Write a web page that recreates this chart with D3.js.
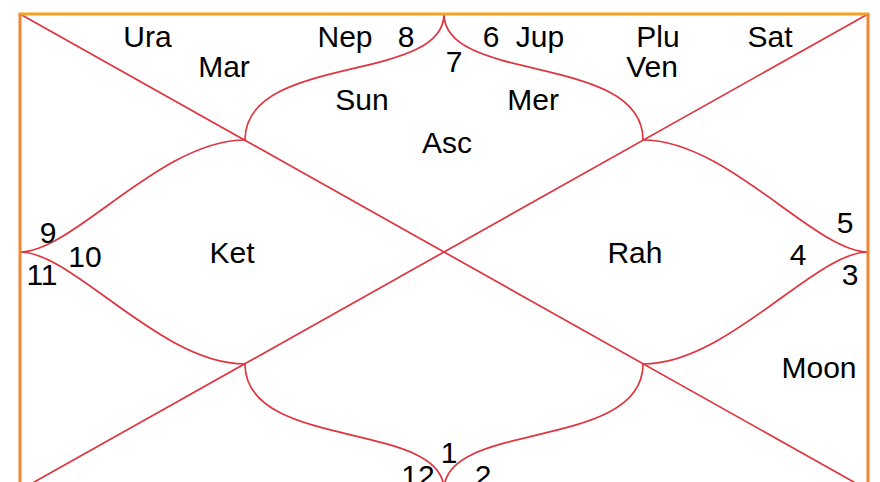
<!DOCTYPE html>
<meta charset="utf-8">
<script src="https://d3js.org/d3.v7.min.js"></script>
<style>
  html, body { margin: 0; padding: 0; background: #fff; }
  svg { display: block; font-family: 'Liberation Sans', Arial, sans-serif; }
</style>
<body>
<div id="chart"></div>
<script>
// sign number in each house (house 1 = top diamond, counter-clockwise)
var signs = [7, 8, 9, 10, 11, 12, 1, 2, 3, 4, 5, 6];
// planets in each house
var planets = [
  ["Sun", "Mer", "Asc"],
  ["Nep", "Ura", "Mar"],
  [],
  ["Ket"],
  [],
  [],
  [],
  [],
  ["Moon"],
  ["Rah"],
  [],
  ["Jup", "Plu", "Sat", "Ven"]
];

// layout (fractions of the chart box)
var signPos = [
  [.5118, .1212], [.4552, .0693], [.0330, .4811], [.0767, .5315],
  [.0259, .5693], [.4693, .9916], [.5059, .9433], [.5460, .9916],
  [.9788, .5693], [.9175, .5273], [.9729, .4601], [.5554, .0693]
];
var planetPos = {
  Sun: [.4033, .2017], Mer: [.6050, .2017], Asc: [.5035, .2920],
  Nep: [.3833, .0693], Ura: [.1504, .0693], Mar: [.2406, .1324],
  Ket: [.2500, .5231], Moon: [.9422, .7647], Rah: [.7252, .5231],
  Jup: [.6132, .0693], Plu: [.7524, .0693], Sat: [.8844, .0693],
  Ven: [.7453, .1324]
};

var W = 880, H = 482;
var x = d3.scaleLinear().domain([0, 1]).range([20, 868]);
var y = d3.scaleLinear().domain([0, 1]).range([14, 490]);

var svg = d3.select("#chart").append("svg")
  .attr("width", W).attr("height", H);

// lobe curves, top-left one and left-top one, mirrored for the rest
var k = .2653;
var topLobe = [[.5, 0], [.5, .147], [k, .0819], [k, .2647]];
var sideLobe = [[0, .5], [.0624, .5], [.1658, .2647], [k, .2647]];

function mirror(pts, mx, my) {
  return pts.map(function(p) {
    return [mx ? 1 - p[0] : p[0], my ? 1 - p[1] : p[1]];
  });
}

var lobes = [];
[[false, false], [true, false], [false, true], [true, true]].forEach(function(m) {
  lobes.push(mirror(topLobe, m[0], m[1]));
  lobes.push(mirror(sideLobe, m[0], m[1]));
});

var red = "#de3540";

svg.append("g").selectAll("path")
  .data(lobes)
  .enter().append("path")
    .attr("d", function(p) {
      var pa = d3.path();
      pa.moveTo(x(p[0][0]), y(p[0][1]));
      pa.bezierCurveTo(x(p[1][0]), y(p[1][1]), x(p[2][0]), y(p[2][1]), x(p[3][0]), y(p[3][1]));
      return pa.toString();
    })
    .attr("fill", "none")
    .attr("stroke", red)
    .attr("stroke-width", 1.7);

// diagonals
svg.append("line")
  .attr("x1", x(0)).attr("y1", y(0)).attr("x2", x(1)).attr("y2", y(1))
  .attr("stroke", red).attr("stroke-width", 1.7);
svg.append("line")
  .attr("x1", x(1)).attr("y1", y(0)).attr("x2", x(0)).attr("y2", y(1))
  .attr("stroke", red).attr("stroke-width", 1.7);

// frame
svg.append("line")
  .attr("x1", x(0) - 1.5).attr("y1", y(0)).attr("x2", x(1) + 1.5).attr("y2", y(0))
  .attr("stroke", "#f5a31c").attr("stroke-width", 3);
svg.append("line")
  .attr("x1", x(0)).attr("y1", y(0)).attr("x2", x(0)).attr("y2", y(1))
  .attr("stroke", "#f08633").attr("stroke-width", 3);
svg.append("line")
  .attr("x1", x(1)).attr("y1", y(0)).attr("x2", x(1)).attr("y2", y(1))
  .attr("stroke", "#f08633").attr("stroke-width", 3);

// sign numbers
svg.append("g").selectAll("text")
  .data(signs)
  .enter().append("text")
    .attr("x", function(d, i) { return x(signPos[i][0]); })
    .attr("y", function(d, i) { return y(signPos[i][1]); })
    .attr("text-anchor", "middle")
    .style("font-size", "30px")
    .attr("fill", "#000")
    .text(function(d) { return d; });

// planets
var plist = [];
planets.forEach(function(ps, h) {
  ps.forEach(function(p) { plist.push({ name: p, house: h + 1 }); });
});

svg.append("g").selectAll("text")
  .data(plist)
  .enter().append("text")
    .attr("x", function(d) { return x(planetPos[d.name][0]); })
    .attr("y", function(d) { return y(planetPos[d.name][1]); })
    .attr("text-anchor", "middle")
    .style("font-size", "30px")
    .attr("fill", "#000")
    .text(function(d) { return d.name; });
</script>
</body>
